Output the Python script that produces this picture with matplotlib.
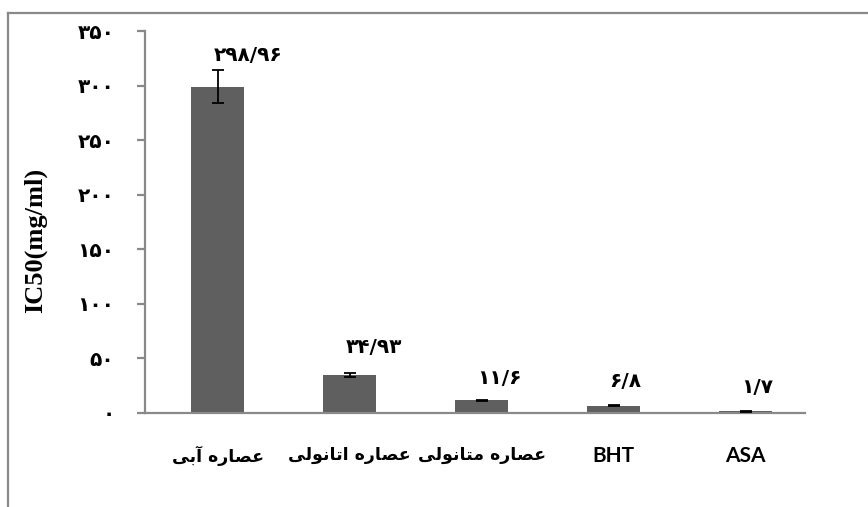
import matplotlib
matplotlib.use("Agg")
import matplotlib.pyplot as plt
from matplotlib.ticker import FuncFormatter
from matplotlib.lines import Line2D

# ---------------- data ----------------
categories = ["عصاره آبی", "عصاره اتانولی", "عصاره متانولی", "BHT", "ASA"]
values = [298.96, 34.93, 11.6, 6.8, 1.7]
errors = [15.0, 1.5, 0.6, 0.5, 0.4]
value_labels = ["۲۹۸/۹۶", "۳۴/۹۳", "۱۱/۶", "۶/۸", "۱/۷"]
y_ticks = [0, 50, 100, 150, 200, 250, 300, 350]
y_label = "IC50(mg/ml)"

# label offsets above error bar top (pixels) - layout only
label_dy_px = [15, 26, 21, 24, 23]

# ---------------- simple Persian shaping (matplotlib has no CTL) ----------------
FORMS = {
    'ع': ('\uFEC9', '\uFECA', '\uFECB', '\uFECC'),
    'ص': ('\uFEB9', '\uFEBA', '\uFEBB', '\uFEBC'),
    'ا': ('\uFE8D', '\uFE8E', None, None),
    'ر': ('\uFEAD', '\uFEAE', None, None),
    'ه': ('\uFEE9', '\uFEEA', '\uFEEB', '\uFEEC'),
    'آ': ('\uFE81', '\uFE82', None, None),
    'ب': ('\uFE8F', '\uFE90', '\uFE91', '\uFE92'),
    'ی': ('\uFEEF', '\uFEF0', '\uFEF3', '\uFEF4'),
    'ت': ('\uFE95', '\uFE96', '\uFE97', '\uFE98'),
    'ن': ('\uFEE5', '\uFEE6', '\uFEE7', '\uFEE8'),
    'و': ('\uFEED', '\uFEEE', None, None),
    'ل': ('\uFEDD', '\uFEDE', '\uFEDF', '\uFEE0'),
    'م': ('\uFEE1', '\uFEE2', '\uFEE3', '\uFEE4'),
}


def shape(s):
    if not any(c in FORMS for c in s):
        return s
    out = []
    for i, c in enumerate(s):
        if c not in FORMS:
            out.append(c)
            continue
        prev = s[i - 1] if i > 0 else ''
        nxt = s[i + 1] if i + 1 < len(s) else ''
        jp = prev in FORMS and FORMS[prev][2] is not None
        jn = FORMS[c][2] is not None and nxt in FORMS
        iso, fin, ini, med = FORMS[c]
        out.append(med if (jp and jn) else fin if jp else ini if jn else iso)
    return ''.join(reversed(out))


PERSIAN_DIGITS = "۰۱۲۳۴۵۶۷۸۹"


def to_fa(n):
    return ''.join(PERSIAN_DIGITS[int(d)] for d in str(int(n)))


# ---------------- figure ----------------
W, H, DPI = 868, 507, 100
fig = plt.figure(figsize=(W / DPI, H / DPI), dpi=DPI)
fig.patch.set_facecolor("white")

GRAY = "#898989"
BAR = "#5f5f5f"

# outer chart-area frame (cropped on right and bottom)
fig.add_artist(Line2D([8 / W, 1.0], [1 - 13 / H, 1 - 13 / H], color=GRAY, lw=1.6,
                      transform=fig.transFigure))
fig.add_artist(Line2D([8 / W, 8 / W], [1 - 13 / H, 0.0], color=GRAY, lw=1.6,
                      transform=fig.transFigure))

ax = fig.add_axes([145 / W, 94 / H, 660 / W, 382 / H])
ax.patch.set_alpha(0)

x = list(range(len(categories)))
ax.bar(x, values, width=0.4, color=BAR, zorder=2)
ax.errorbar(x, values, yerr=errors, fmt="none", ecolor="black", elinewidth=1.3,
            capsize=4.5, capthick=1.3, zorder=3)

ax.set_ylim(0, 350)
ax.set_xlim(-0.55, 4.45)

for side in ("top", "right"):
    ax.spines[side].set_visible(False)
for side in ("left", "bottom"):
    ax.spines[side].set_color(GRAY)
    ax.spines[side].set_linewidth(1.6)

ax.set_yticks(y_ticks)
ax.yaxis.set_major_formatter(FuncFormatter(lambda v, p: to_fa(v)))
ax.tick_params(axis="y", direction="out", length=6, width=1.6, color=GRAY, pad=16)
for t in ax.get_yticklabels():
    t.set_fontsize(14.5)
    t.set_fontweight("bold")
    t.set_family(["DejaVu Sans"])

ax.set_xticks(x)
ax.set_xticklabels([shape(c) for c in categories])
ax.tick_params(axis="x", length=0, pad=24)
for t, c in zip(ax.get_xticklabels(), categories):
    t.set_fontweight("bold")
    if c.isascii():
        t.set_fontsize(15)
        t.set_family(["Lato", "DejaVu Sans"])
    else:
        t.set_fontsize(12.5)
        t.set_family(["DejaVu Sans"])

ax.set_ylabel(y_label, fontsize=19, fontweight="bold", family="Liberation Serif",
              labelpad=0)
ax.yaxis.set_label_coords(-(145 - 47) / 660, (240 - 31) / 382 * -1 + 1)

# value labels
for xi, v, e, lab, dy in zip(x, values, errors, value_labels, label_dy_px):
    ax.annotate(lab, xy=(xi, v + e), xytext=(-3, dy * 72 / DPI),
                textcoords="offset points", ha="left", va="center",
                fontsize=14.5, fontweight="bold", family="DejaVu Sans", zorder=4)

fig.savefig("out.png", dpi=DPI)
